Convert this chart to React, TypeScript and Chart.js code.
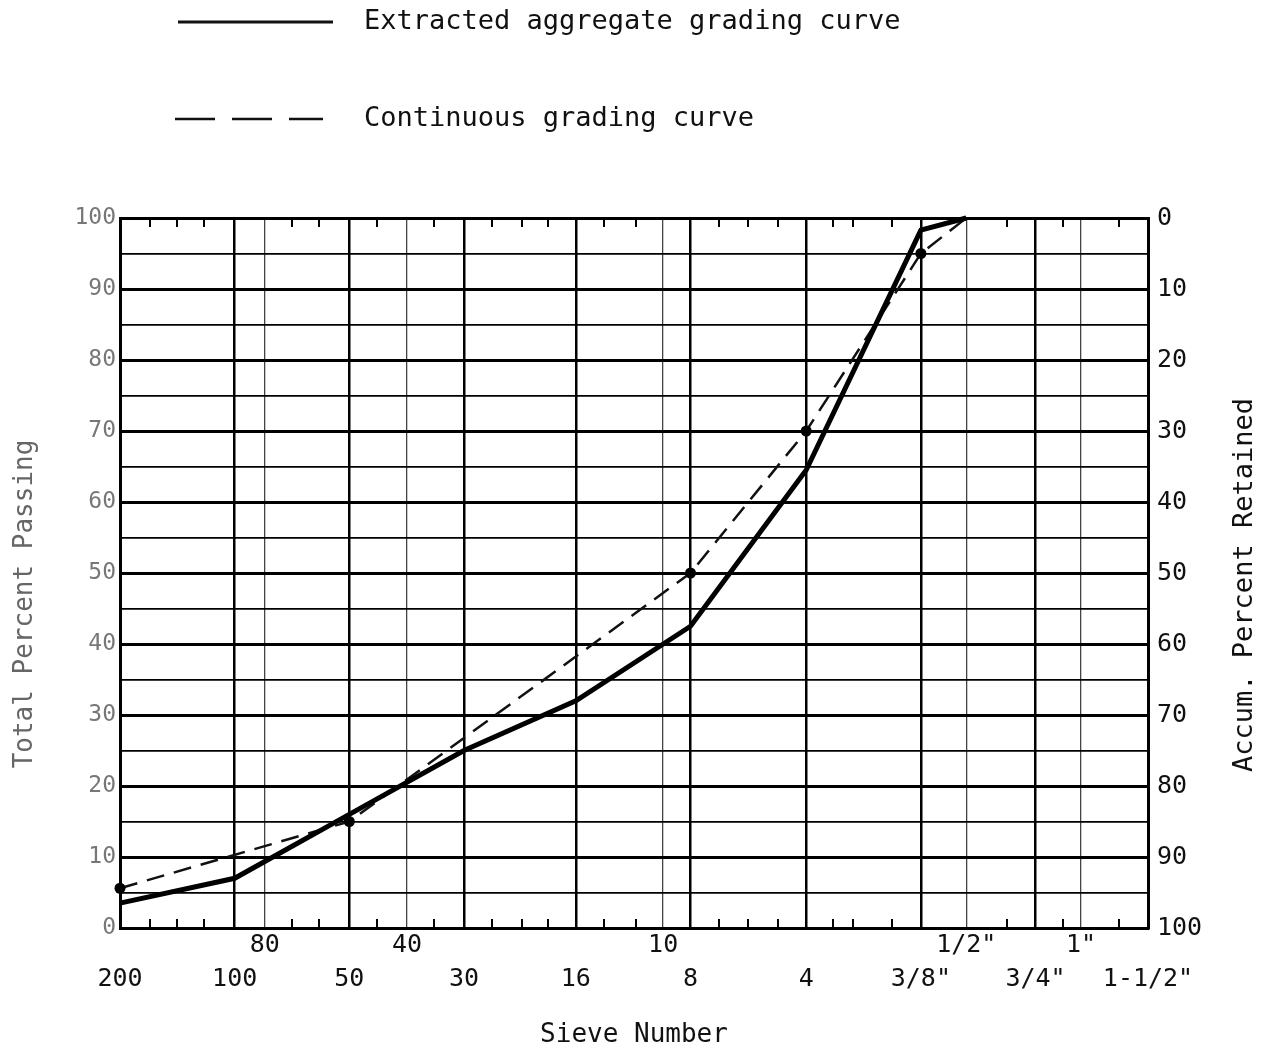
import React, { useEffect, useRef } from 'react';
import { Chart, registerables } from 'chart.js';

Chart.register(...registerables);

const MONO = '"DejaVu Sans Mono", "Liberation Mono", monospace';

// Principal sieves (opening in mm) with the labels of the lower row
const mainSieveSizes = [0.075, 0.15, 0.3, 0.6, 1.18, 2.36, 4.75, 9.5, 19, 37.5];
const mainSieveLabels = ['200', '100', '50', '30', '16', '8', '4', '3/8"', '3/4"', '1-1/2"'];
// Secondary sieves, labelled on the upper row
const extraSieveSizes = [0.18, 0.425, 2.0, 12.5, 25];
const extraSieveLabels = ['80', '40', '10', '1/2"', '1"'];
// Remaining standard sieves, shown as short ticks on the frame
const tickSieveSizes = [
  0.09, 0.106, 0.125, 0.212, 0.25, 0.355, 0.5, 0.71, 0.85, 1.0, 1.4, 1.7,
  2.8, 3.35, 4.0, 5.6, 6.3, 8.0, 16, 22.4, 31.5,
];

// Extracted aggregate grading (percent passing)
const extractedSizes = [0.075, 0.15, 0.3, 0.6, 1.18, 2.36, 4.75, 9.5, 12.5];
const extractedPassing = [3.5, 7, 16, 25, 32, 42.5, 64.5, 98.3, 100];

// Continuous grading (percent passing)
const continuousSizes = [0.075, 0.3, 2.36, 4.75, 9.5, 12.5];
const continuousPassing = [5.6, 15, 50, 70, 95, 100];

const leftTitle = 'Total Percent Passing';
const rightTitle = 'Accum. Percent Retained';
const bottomTitle = 'Sieve Number';

const W = 1249;
const H = 1035;

const isMain = (v: number) => mainSieveSizes.some((s) => Math.abs(s - v) < 1e-9);

const frameTicks = {
  id: 'frameTicks',
  beforeDatasetsDraw(chart: any) {
    const { ctx, chartArea, scales } = chart;
    const x = scales.x;
    ctx.save();
    ctx.strokeStyle = '#000';
    ctx.lineWidth = 2;
    ctx.beginPath();
    tickSieveSizes.forEach((v) => {
      const px = Math.round(x.getPixelForValue(v));
      ctx.moveTo(px, chartArea.top);
      ctx.lineTo(px, chartArea.top + 9);
      ctx.moveTo(px, chartArea.bottom);
      ctx.lineTo(px, chartArea.bottom - 9);
    });
    ctx.stroke();
    ctx.restore();
  },
};

const stackedLegend = {
  id: 'stackedLegend',
  afterDraw(chart: any) {
    const { ctx } = chart;
    const rows = [14, 111];
    chart.data.datasets.forEach((ds: any, i: number) => {
      const y = rows[i];
      ctx.save();
      ctx.strokeStyle = '#111';
      ctx.lineWidth = i === 0 ? 3 : 2.5;
      ctx.setLineDash(ds.borderDash && ds.borderDash.length ? [40, 17] : []);
      ctx.beginPath();
      ctx.moveTo(i === 0 ? 170 : 167, y);
      ctx.lineTo(i === 0 ? 325 : 315, y);
      ctx.stroke();
      ctx.setLineDash([]);
      ctx.fillStyle = '#111';
      ctx.font = `27px ${MONO}`;
      ctx.textBaseline = 'middle';
      ctx.textAlign = 'left';
      ctx.fillText(ds.label, 356, y);
      ctx.restore();
    });
  },
};

const sideTitles = {
  id: 'sideTitles',
  afterDraw(chart: any) {
    const { ctx } = chart;
    const draw = (text: string, x: number, y: number, color: string, size: number) => {
      ctx.save();
      ctx.translate(x, y);
      ctx.rotate(-Math.PI / 2);
      ctx.fillStyle = color;
      ctx.font = `${size}px ${MONO}`;
      ctx.textAlign = 'center';
      ctx.textBaseline = 'middle';
      ctx.fillText(text, 0, 0);
      ctx.restore();
    };
    draw(leftTitle, 17, 596, '#666', 26);
    draw(rightTitle, 1237, 577, '#111', 27);
  },
};

export default function App() {
  const canvasRef = useRef<HTMLCanvasElement | null>(null);

  useEffect(() => {
    const canvas = canvasRef.current;
    if (!canvas) return;

    const chart = new Chart(canvas, {
      type: 'line',
      data: {
        datasets: [
          {
            label: 'Extracted aggregate grading curve',
            data: extractedSizes.map((x, i) => ({ x, y: extractedPassing[i] })),
            borderColor: '#000',
            borderWidth: 5,
            pointRadius: 0,
            tension: 0,
            fill: false,
            clip: 8,
          },
          {
            label: 'Continuous grading curve',
            data: continuousSizes.map((x, i) => ({ x, y: continuousPassing[i] })),
            borderColor: '#111',
            borderWidth: 2.5,
            borderDash: [18, 10],
            pointRadius: continuousSizes.map((_, i) => (i === continuousSizes.length - 1 ? 0 : 5.5)),
            pointBackgroundColor: '#000',
            pointBorderColor: '#000',
            pointBorderWidth: 0,
            tension: 0,
            fill: false,
            clip: 8,
          },
        ],
      },
      options: {
        animation: false,
        responsive: false,
        devicePixelRatio: 1,
        layout: { padding: { top: 210, left: 0, right: 0, bottom: 0 } },
        plugins: {
          legend: { display: false },
          tooltip: { enabled: false },
        },
        scales: {
          x: {
            type: 'logarithmic',
            min: 0.075,
            max: 37.5,
            afterBuildTicks: (scale: any) => {
              const vals = [...mainSieveSizes, ...extraSieveSizes].sort((a, b) => a - b);
              scale.ticks = vals.map((value) => ({ value, major: isMain(value) }));
            },
            afterFit: (scale: any) => {
              scale.height = H - 920;
            },
            ticks: {
              autoSkip: false,
              maxRotation: 0,
              minRotation: 0,
              padding: 0,
              color: '#111',
              font: { family: MONO, size: 25, lineHeight: 34 / 25 },
              callback: (value: any) => {
                const v = Number(value);
                const mi = mainSieveSizes.findIndex((s) => Math.abs(s - v) < 1e-9);
                if (mi >= 0) return ['', mainSieveLabels[mi]];
                const ei = extraSieveSizes.findIndex((s) => Math.abs(s - v) < 1e-9);
                if (ei >= 0) return [extraSieveLabels[ei], ''];
                return '';
              },
            },
            grid: {
              drawTicks: false,
              color: (ctx: any) => (ctx.tick && isMain(ctx.tick.value) ? '#000' : '#444'),
              lineWidth: (ctx: any) => (ctx.tick && isMain(ctx.tick.value) ? 2.5 : 1.3),
            },
            border: { display: true, color: '#000', width: 3 },
            title: {
              display: true,
              text: bottomTitle,
              color: '#111',
              font: { family: MONO, size: 26, lineHeight: 0.62 },
              padding: 0,
            },
          },
          y: {
            type: 'linear',
            position: 'left',
            min: 0,
            max: 100,
            afterFit: (scale: any) => {
              scale.width = 112;
            },
            ticks: {
              stepSize: 5,
              padding: 4,
              color: '#777',
              font: { family: MONO, size: 23 },
              callback: (value: any) => (Number(value) % 10 === 0 ? String(value) : ''),
            },
            grid: {
              drawTicks: false,
              color: '#000',
              lineWidth: (ctx: any) => (ctx.tick && ctx.tick.value % 10 === 0 ? 3 : 1.8),
            },
            border: { display: true, color: '#000', width: 3 },
          },
          y2: {
            type: 'linear',
            position: 'right',
            min: 0,
            max: 100,
            reverse: true,
            afterFit: (scale: any) => {
              scale.width = W - 1140;
            },
            ticks: {
              stepSize: 10,
              padding: 9,
              color: '#111',
              font: { family: MONO, size: 25 },
            },
            grid: { display: false, drawTicks: false },
            border: { display: true, color: '#000', width: 3 },
          },
        },
      },
      plugins: [frameTicks, stackedLegend, sideTitles],
    } as any);

    return () => {
      chart.destroy();
    };
  }, []);

  return (
    <div style={{ width: W, height: H }}>
      <canvas ref={canvasRef} width={W} height={H} style={{ display: 'block', width: W, height: H }} />
    </div>
  );
}
